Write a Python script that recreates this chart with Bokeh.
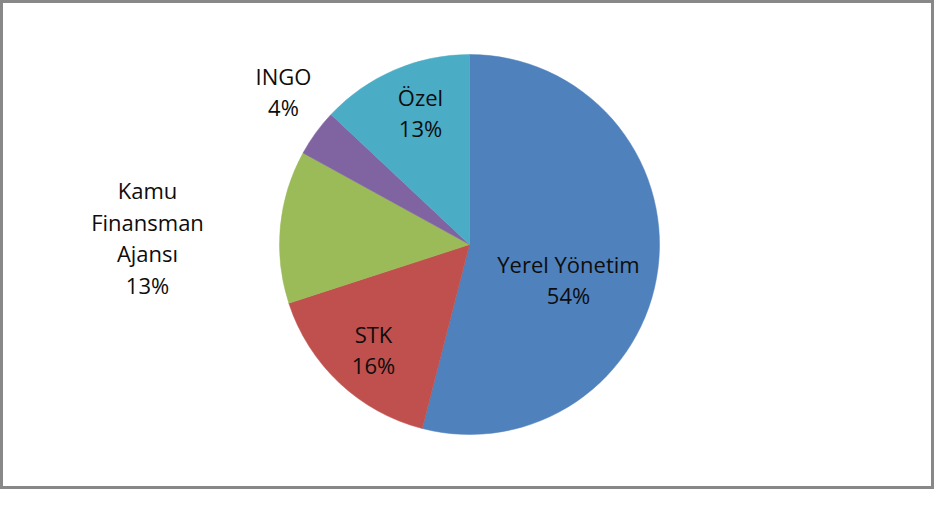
import math
from bokeh.plotting import figure
from bokeh.models import ColumnDataSource, Range1d
from bokeh.core.properties import value
from bokeh.embed import file_html
from bokeh.resources import INLINE

# ---- data ----
categories = ["Yerel Yönetim", "STK", "Kamu Finansman Ajansı", "INGO", "Özel"]
values = [54, 16, 13, 4, 13]
label_lines = [["Yerel Yönetim"], ["STK"], ["Kamu", "Finansman", "Ajansı"], ["INGO"], ["Özel"]]
colors = ["#4F81BD", "#C0504D", "#9BBB59", "#8064A2", "#4BACC6"]

# ---- layout (pixel space) ----
W, H = 934, 489
cx, cy, R = 469, 245, 190
# label block centres (pixel space, y up)
label_pos = [(568, 210), (373, 140), (147, 252), (283, 398), (420, 377)]
line_gap = 31.5

total = float(sum(values))
start, end = [], []
a = math.pi / 2
for v in values:
    start.append(a)
    a = a - 2 * math.pi * v / total
    end.append(a)

wedges = ColumnDataSource(dict(start=start, end=end, color=colors, cat=categories))

tx, ty, tt = [], [], []
for lines, v, (lx, ly) in zip(label_lines, values, label_pos):
    allines = lines + [f"{round(100 * v / total)}%"]
    n = len(allines)
    for i, s in enumerate(allines):
        tx.append(lx)
        ty.append(ly + (n - 1) / 2 * line_gap - i * line_gap)
        tt.append(s)
labels = ColumnDataSource(dict(x=tx, y=ty, text=tt))

p = figure(width=W, height=H, output_backend="svg", toolbar_location=None,
           x_range=Range1d(0, W), y_range=Range1d(0, H),
           min_border=0, min_border_left=0, min_border_right=0,
           min_border_top=0, min_border_bottom=0)
p.axis.visible = False
p.grid.visible = False
p.background_fill_color = "white"
p.border_fill_color = "white"
p.outline_line_color = "#888888"
p.outline_line_width = 5

p.wedge(x=cx, y=cy, radius=R, start_angle="start", end_angle="end",
        direction="clock", fill_color="color", line_color="color", line_width=0.5,
        source=wedges)

p.text(x="x", y="y", text="text", source=labels, text_align="center",
       text_baseline="middle", text_font=value("Open Sans"),
       text_font_size="22px", text_color="#0d0d0d")

open("out.html", "w").write(file_html(p, INLINE))
